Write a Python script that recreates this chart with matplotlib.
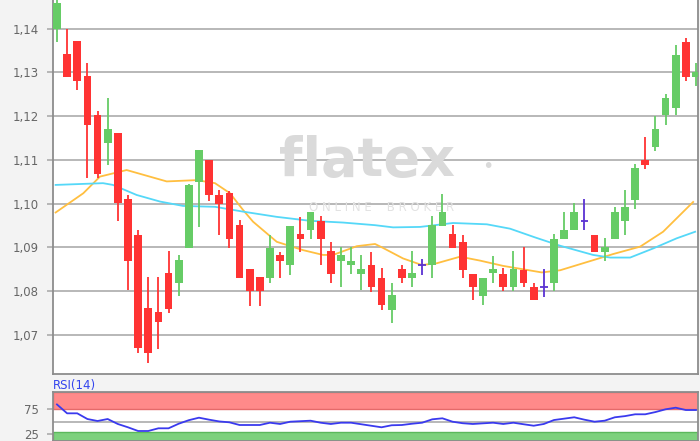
import matplotlib.pyplot as plt
import numpy as np

# daily candles (open, high, low, close)
opens = [1.1400, 1.1342, 1.1371, 1.1291, 1.1202, 1.1138, 1.1161, 1.1010, 1.0928, 1.0761,
         1.0752, 1.0841, 1.0818, 1.0898, 1.1049, 1.1101, 1.1021, 1.1024, 1.0951, 1.0850,
         1.0832, 1.0831, 1.0882, 1.0860, 1.0930, 1.0940, 1.0960, 1.0892, 1.0869, 1.0860,
         1.0839, 1.0861, 1.0831, 1.0758, 1.0850, 1.0831, 1.0861, 1.0860, 1.0949, 1.0930,
         1.0912, 1.0839, 1.0790, 1.0841, 1.0839, 1.0810, 1.0848, 1.0810, 1.0810, 1.0818,
         1.0919, 1.0940, 1.0961, 1.0928, 1.0890, 1.0919, 1.0960, 1.1008, 1.1100, 1.1130,
         1.1203, 1.1218, 1.1370, 1.1290]
highs = [1.1485, 1.1400, 1.1371, 1.1321, 1.1212, 1.1241, 1.1161, 1.1021, 1.0941, 1.0833,
         1.0833, 1.0892, 1.0883, 1.1045, 1.1123, 1.1101, 1.1031, 1.1030, 1.0963, 1.0850,
         1.0832, 1.0928, 1.0890, 1.0949, 1.0970, 1.0980, 1.0972, 1.0912, 1.0902, 1.0902,
         1.0883, 1.0890, 1.0852, 1.0820, 1.0861, 1.0892, 1.0873, 1.0972, 1.1022, 1.0951,
         1.0928, 1.0839, 1.0831, 1.0880, 1.0852, 1.0892, 1.0900, 1.0819, 1.0850, 1.0930,
         1.0980, 1.1001, 1.1010, 1.0928, 1.0921, 1.0992, 1.1031, 1.1091, 1.1153, 1.1201,
         1.1250, 1.1363, 1.1379, 1.1322]
lows = [1.1369, 1.1290, 1.1260, 1.1058, 1.1058, 1.1088, 1.0960, 1.0803, 1.0658, 1.0637,
        1.0669, 1.0750, 1.0789, 1.0898, 1.0947, 1.1006, 1.0928, 1.0898, 1.0831, 1.0767,
        1.0767, 1.0818, 1.0830, 1.0838, 1.0890, 1.0919, 1.0860, 1.0818, 1.0810, 1.0839,
        1.0803, 1.0799, 1.0758, 1.0728, 1.0818, 1.0810, 1.0838, 1.0831, 1.0949, 1.0898,
        1.0831, 1.0780, 1.0768, 1.0818, 1.0801, 1.0801, 1.0810, 1.0780, 1.0788, 1.0801,
        1.0919, 1.0940, 1.0940, 1.0890, 1.0869, 1.0919, 1.0928, 1.0989, 1.1079, 1.1120,
        1.1180, 1.1203, 1.1280, 1.1269]
closes = [1.1459, 1.1290, 1.1280, 1.1180, 1.1069, 1.1170, 1.1001, 1.0869, 1.0671, 1.0658,
          1.0730, 1.0759, 1.0871, 1.1043, 1.1123, 1.1020, 1.0999, 1.0919, 1.0831, 1.0801,
          1.0801, 1.0898, 1.0869, 1.0949, 1.0919, 1.0980, 1.0919, 1.0839, 1.0882, 1.0870,
          1.0850, 1.0810, 1.0768, 1.0791, 1.0831, 1.0841, 1.0861, 1.0951, 1.0980, 1.0898,
          1.0848, 1.0810, 1.0831, 1.0850, 1.0810, 1.0850, 1.0820, 1.0780, 1.0810, 1.0920,
          1.0941, 1.0980, 1.0961, 1.0890, 1.0900, 1.0980, 1.0992, 1.1081, 1.1088, 1.1170,
          1.1241, 1.1341, 1.1290, 1.1300]

# moving averages (position in candle units, value)
ma_fast_x = [-0.13, 2.6, 4.24, 6.87, 10.82, 13.78, 15.58, 17.06, 18.34, 19.33, 21.67, 24.26,
             26.23, 27.22, 29.56, 31.36, 32.15, 34.12, 35.97, 37.45, 39.74, 41.72, 43.98,
             47.8, 49.61, 52.86, 54.83, 57.5, 59.76, 62.72]
ma_fast_y = [1.0980, 1.1024, 1.1062, 1.1077, 1.1051, 1.1054, 1.1047, 1.1024, 1.0986, 1.0959,
             1.0913, 1.0894, 1.0883, 1.0883, 1.0903, 1.0908, 1.0899, 1.0875, 1.0860, 1.0864,
             1.0879, 1.0870, 1.0858, 1.0843, 1.0848, 1.0871, 1.0885, 1.0902, 1.0936, 1.1004]
ma_slow_x = [-0.13, 4.54, 5.52, 7.86, 10.16, 12.43, 15.58, 18.34, 21.67, 24.95, 28.21, 31.36,
             33.14, 35.8, 39.05, 42.38, 44.67, 47.14, 49.61, 52.86, 54.54, 56.51, 58.8,
             61.1, 62.92]
ma_slow_y = [1.1043, 1.1047, 1.1043, 1.1020, 1.1005, 1.0995, 1.0993, 1.0982, 1.0970, 1.0961,
             1.0957, 1.0951, 1.0946, 1.0947, 1.0956, 1.0953, 1.0943, 1.0923, 1.0904, 1.0883,
             1.0877, 1.0877, 1.0898, 1.0921, 1.0936]

rsi = [84, 66.5, 66.5, 55.3, 51.4, 55.3, 45.5, 39, 31.7, 31.7, 37, 37, 46, 53, 57.9, 54,
       50.5, 48.8, 43.5, 43.5, 43.5, 48, 45.5, 50, 51, 52, 48, 45.5, 48, 48, 45, 42, 39, 43,
       43.5, 46, 48, 54.7, 56.7, 50, 47, 45.5, 46.8, 48, 45.5, 48, 45, 42.1, 45.5, 53.3, 56,
       58.7, 54, 50, 52, 58.7, 61, 64.6, 64.6, 69, 74.4, 77.6, 73, 73]

price_ticks = [1.07, 1.08, 1.09, 1.10, 1.11, 1.12, 1.13, 1.14]

red = '#ff3333'
green = '#66cc66'
doji = '#5a32d2'
grid_c = '#ababab'
text_c = '#666666'

fig = plt.figure(figsize=(7, 4.41), dpi=100, facecolor='#f3f3f3')
ax = fig.add_axes([53 / 700, 1 - 374 / 441, 645 / 700, 374 / 441])
ax.set_facecolor('white')

x = np.arange(len(opens))
o = np.array(opens)
c = np.array(closes)
cols = np.where(c > o, green, np.where(c < o, red, doji))

ax.vlines(x, lows, highs, colors=cols, lw=1.3, zorder=3)
body = np.maximum(np.abs(c - o), 0.00012)
is_doji = c == o
ax.bar(x[~is_doji], body[~is_doji], width=0.76, bottom=np.minimum(o, c)[~is_doji],
       color=cols[~is_doji], zorder=3, linewidth=0)
ax.hlines(c[is_doji], x[is_doji] - 0.38, x[is_doji] + 0.38, colors=doji, lw=1.3, zorder=3)

ax.plot(ma_fast_x, ma_fast_y, color='#ffbf40', lw=1.3, zorder=2)
ax.plot(ma_slow_x, ma_slow_y, color='#55d8f8', lw=1.3, zorder=2)

ax.set_xlim(-0.39, 63.2)
ax.set_ylim(1.06109, 1.14656)
ax.set_xticks([])
ax.set_yticks(price_ticks)
ax.set_yticklabels([f'{t:.2f}'.replace('.', ',') for t in price_ticks])
ax.tick_params(axis='y', length=4, width=1.2, color=grid_c, labelcolor=text_c,
               labelsize=8.5, pad=6)
ax.grid(axis='y', color=grid_c, lw=1.2, zorder=0)
ax.set_axisbelow(True)
for s in ['left', 'bottom', 'right']:
    ax.spines[s].set_color('#8c8c8c')
    ax.spines[s].set_linewidth(1.3)
ax.spines['top'].set_visible(False)

# watermark
ax.text(367 / 700, 1 - 161 / 441, 'flatex', transform=fig.transFigure, ha='center',
        va='center', fontsize=39, fontweight='bold', color='#dadada', zorder=1)
ax.text(488 / 700, 1 - 167 / 441, '\u2022', transform=fig.transFigure, ha='center',
        va='center', fontsize=14, color='#dadada', zorder=1)
ax.text(382 / 700, 1 - 207 / 441, 'O N L I N E    B R O K E R', transform=fig.transFigure,
        ha='center', va='center', fontsize=8.5, color='#e2e2e2', zorder=1)

# RSI panel
ax2 = fig.add_axes([53 / 700, 0, 645 / 700, 49 / 441])
ax2.set_facecolor('white')
ax2.set_xlim(-0.39, 63.2)
ax2.set_ylim(12, 108.5)
ax2.axhspan(75, 108.5, facecolor='#ff8a8a', edgecolor='#e56a6a', lw=1)
ax2.axhspan(12, 30.3, facecolor='#7dd17d', edgecolor='#5cb85c', lw=1)
ax2.axhline(50, color=grid_c, lw=1.2)
ax2.plot(x, rsi, color='#3a3aee', lw=1.3)
ax2.set_xticks([])
ax2.set_yticks([25, 75])
ax2.tick_params(axis='y', length=4, width=1.2, color=grid_c, labelcolor=text_c,
                labelsize=8.5, pad=6)
for s in ax2.spines.values():
    s.set_color('#8c8c8c')
    s.set_linewidth(1.3)
fig.text(53 / 700, 1 - 385 / 441, 'RSI(14)', color='#3344ee', fontsize=8.5,
         ha='left', va='center')

plt.savefig('out.png', dpi=100, facecolor=fig.get_facecolor())
